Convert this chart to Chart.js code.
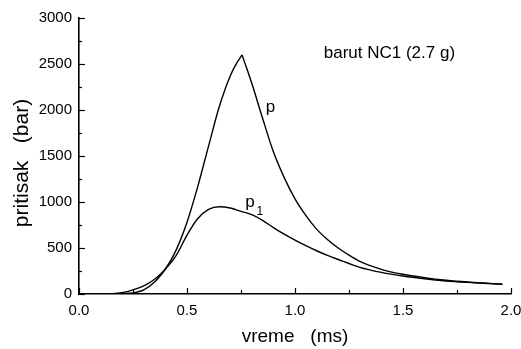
<!DOCTYPE html>
<html>
<head>
<meta charset="utf-8">
<script src="https://cdn.jsdelivr.net/npm/chart.js@4"></script>
<style>
  body { margin: 0; background: #fff; }
</style>
</head>
<body>
<canvas id="pressureChart" width="521" height="349"></canvas>
<script>
// p - rising part, up to the peak
const timePRise = [0.0, 0.1, 0.15, 0.2, 0.25, 0.3, 0.35, 0.4, 0.45, 0.5, 0.55, 0.6, 0.65, 0.7, 0.73, 0.755];
const pressurePRise = [0, 1, 4, 15, 45, 88, 160, 275, 480, 780, 1170, 1610, 2040, 2370, 2510, 2598];
// p - falling part, from the peak
const timePFall = [0.755, 0.78, 0.8, 0.85, 0.9, 0.95, 1.0, 1.05, 1.1, 1.15, 1.2, 1.25, 1.3, 1.4, 1.5, 1.6, 1.7, 1.8, 1.9, 1.96];
const pressurePFall = [2598, 2430, 2290, 1910, 1545, 1265, 1035, 855, 705, 592, 500, 422, 355, 268, 214, 178, 150, 130, 115, 106];

// p1
const timeP1 = [0.0, 0.15, 0.2, 0.25, 0.3, 0.35, 0.4, 0.45, 0.5, 0.55, 0.6, 0.65, 0.7, 0.75, 0.8, 0.85, 0.9, 0.95, 1.0, 1.05, 1.1, 1.15, 1.2, 1.3, 1.4, 1.5, 1.6, 1.7, 1.8, 1.9, 1.96];
const pressureP1 = [0, 2, 5, 12, 45, 130, 268, 420, 640, 820, 920, 948, 935, 898, 862, 800, 722, 650, 585, 525, 470, 420, 375, 290, 235, 195, 165, 142, 126, 113, 106];

const xTicks = [0.0, 0.5, 1.0, 1.5, 2.0];
const yTicks = [0, 500, 1000, 1500, 2000, 2500, 3000];

const FONT = "'Liberation Sans', Arial, sans-serif";

function toPoints(xs, ys) {
    return xs.map((x, i) => ({ x: x, y: ys[i] }));
}

function curve(label, points) {
    return {
        label: label,
        data: points,
        showLine: true,
        borderColor: "#000",
        borderWidth: 1.4,
        pointRadius: 0,
        cubicInterpolationMode: "monotone",
    };
}

// ticks pointing inward + text labels inside the plot
const decorations = {
    id: "decorations",
    afterDraw(chart) {
        const ctx = chart.ctx;
        const xs = chart.scales.x;
        const ys = chart.scales.y;
        const area = chart.chartArea;
        ctx.save();
        ctx.strokeStyle = "#000";
        ctx.lineWidth = 1.2;
        for (let v = 0; v <= 2.0001; v += 0.25) {
            const px = Math.round(xs.getPixelForValue(v)) + 0.5;
            const major = Math.abs(v * 2 - Math.round(v * 2)) < 1e-6;
            ctx.beginPath();
            ctx.moveTo(px, area.bottom);
            ctx.lineTo(px, area.bottom - (major ? 6 : 4));
            ctx.stroke();
        }
        for (let v = 0; v <= 3000; v += 250) {
            const py = Math.round(ys.getPixelForValue(v)) + 0.5;
            const major = v % 500 === 0;
            ctx.beginPath();
            ctx.moveTo(area.left, py);
            ctx.lineTo(area.left + (major ? 6 : 3), py);
            ctx.stroke();
        }

        ctx.fillStyle = "#000";
        ctx.textBaseline = "alphabetic";
        ctx.textAlign = "center";
        ctx.font = "17px " + FONT;
        ctx.fillText("barut NC1 (2.7 g)", xs.getPixelForValue(1.437), ys.getPixelForValue(2560));

        ctx.textAlign = "left";
        ctx.fillText("p", xs.getPixelForValue(0.865), ys.getPixelForValue(1981));
        ctx.fillText("p", xs.getPixelForValue(0.77), ys.getPixelForValue(949));
        ctx.font = "12px " + FONT;
        ctx.fillText("1", xs.getPixelForValue(0.822), ys.getPixelForValue(862));

        // y axis title
        ctx.save();
        ctx.translate(22, 163);
        ctx.rotate(-Math.PI / 2);
        ctx.textAlign = "center";
        ctx.textBaseline = "middle";
        ctx.font = "21px " + FONT;
        ctx.fillText("pritisak   (bar)", 0, 0);
        ctx.restore();
        ctx.restore();
    },
};

new Chart(document.getElementById("pressureChart"), {
    type: "scatter",
    data: {
        datasets: [
            curve("p", toPoints(timePRise, pressurePRise)),
            curve("p", toPoints(timePFall, pressurePFall)),
            curve("p1", toPoints(timeP1, pressureP1)),
        ],
    },
    options: {
        responsive: false,
        animation: false,
        layout: { padding: { top: 18, right: 10, left: 0, bottom: 0 } },
        plugins: {
            legend: { display: false },
            tooltip: { enabled: false },
        },
        scales: {
            x: {
                type: "linear",
                min: 0,
                max: 2,
                afterFit: (scale) => {
                    scale.height = 55;
                    scale.paddingRight = 0;
                    scale.paddingLeft = 0;
                },
                afterBuildTicks: (scale) => { scale.ticks = xTicks.map((v) => ({ value: v })); },
                grid: { display: false, drawTicks: false },
                border: { display: true, color: "#000", width: 1.6 },
                ticks: {
                    color: "#000",
                    padding: 8,
                    font: { family: FONT, size: 15 },
                    callback: (v) => Number(v).toFixed(1),
                },
                title: {
                    display: true,
                    text: "vreme   (ms)",
                    color: "#000",
                    font: { family: FONT, size: 19 },
                    padding: { top: 0, bottom: 1 },
                },
            },
            y: {
                min: 0,
                max: 3000,
                afterFit: (scale) => { scale.width = 79; },
                afterBuildTicks: (scale) => { scale.ticks = yTicks.map((v) => ({ value: v })); },
                grid: { display: false, drawTicks: false },
                border: { display: true, color: "#000", width: 1.6 },
                ticks: {
                    color: "#000",
                    padding: 7,
                    font: { family: FONT, size: 15 },
                    callback: (v) => String(v),
                },
            },
        },
    },
    plugins: [decorations],
});
</script>
</body>
</html>
